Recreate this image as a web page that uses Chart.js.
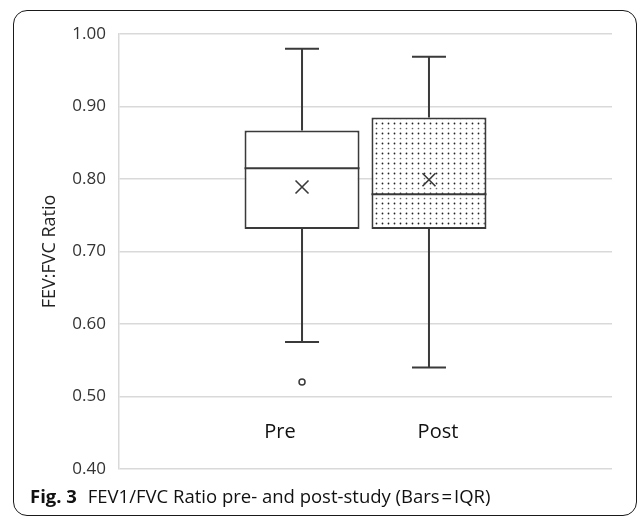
<!DOCTYPE html>
<html>
<head>
<meta charset="utf-8">
<script src="https://cdn.jsdelivr.net/npm/chart.js@4/dist/chart.umd.min.js"></script>
<style>
    html, body { margin: 0; padding: 0; background: #fff; }
    body { width: 637px; height: 516px; position: relative; overflow: hidden; }
    #frame {
        position: absolute; left: 13px; top: 10px; width: 624px; height: 506px;
        box-sizing: border-box; border: 1.5px solid #1a1a1a; border-radius: 14px;
    }
    #chart { position: absolute; left: 14px; top: 11px; }
    #caption {
        position: absolute; left: 30px; top: 483px;
        font-family: "Open Sans", sans-serif; font-size: 18.5px; color: #111;
        white-space: nowrap;
    }
    #caption b { font-weight: 700; margin-right: 6px; }
</style>
</head>
<body>
<div id="frame"></div>
<canvas id="chart" width="622" height="481"></canvas>
<div id="caption"><b>Fig. 3</b> FEV1/FVC Ratio pre- and post-study (Bars&#8202;=&#8202;IQR)</div>

<script>
// box plot values
const groups = ['Pre', 'Post'];
const whiskerMin = [0.575, 0.540];
const q1 = [0.731, 0.731];
const median = [0.815, 0.779];
const q3 = [0.867, 0.885];
const whiskerMax = [0.980, 0.969];
const means = [0.789, 0.799];
const outliers = [[0.520], []];
const yTicks = [0.40, 0.50, 0.60, 0.70, 0.80, 0.90, 1.00];

const ink = '#3a3a3a';

function dotPattern() {
    const c = document.createElement('canvas');
    c.width = 6;
    c.height = 10;
    const g = c.getContext('2d');
    g.fillStyle = '#fff';
    g.fillRect(0, 0, 6, 10);
    g.fillStyle = '#222';
    g.beginPath();
    g.arc(2.5, 2.5, 0.9, 0, Math.PI * 2);
    g.fill();
    g.fillStyle = '#666';
    g.beginPath();
    g.arc(2.5, 7.5, 0.85, 0, Math.PI * 2);
    g.fill();
    return g.createPattern(c, 'repeat');
}

// whiskers, median, mean and outliers on top of the IQR bars
const boxPlugin = {
    id: 'boxExtras',
    afterDatasetsDraw(chart) {
        const ctx = chart.ctx;
        const y = chart.scales.y;
        const labelShift = [-22, 9];
        ctx.save();
        ctx.strokeStyle = ink;
        groups.forEach((name, i) => {
            const bar = chart.getDatasetMeta(i).data[0];
            const x = bar.x;
            const half = bar.width / 2;
            const cap = 17;

            ctx.lineWidth = 2;
            ctx.beginPath();
            ctx.moveTo(x, y.getPixelForValue(q3[i]));
            ctx.lineTo(x, y.getPixelForValue(whiskerMax[i]));
            ctx.moveTo(x - cap, y.getPixelForValue(whiskerMax[i]));
            ctx.lineTo(x + cap, y.getPixelForValue(whiskerMax[i]));
            ctx.moveTo(x, y.getPixelForValue(q1[i]));
            ctx.lineTo(x, y.getPixelForValue(whiskerMin[i]));
            ctx.moveTo(x - cap, y.getPixelForValue(whiskerMin[i]));
            ctx.lineTo(x + cap, y.getPixelForValue(whiskerMin[i]));
            ctx.moveTo(x - half, y.getPixelForValue(median[i]));
            ctx.lineTo(x + half, y.getPixelForValue(median[i]));
            ctx.stroke();

            // mean marker
            const my = y.getPixelForValue(means[i]);
            ctx.lineWidth = 1.6;
            ctx.beginPath();
            ctx.moveTo(x - 6.5, my - 6.5);
            ctx.lineTo(x + 6.5, my + 6.5);
            ctx.moveTo(x + 6.5, my - 6.5);
            ctx.lineTo(x - 6.5, my + 6.5);
            ctx.stroke();

            outliers[i].forEach(v => {
                ctx.lineWidth = 1.5;
                ctx.beginPath();
                ctx.arc(x, y.getPixelForValue(v), 3, 0, Math.PI * 2);
                ctx.stroke();
            });

            ctx.fillStyle = '#111';
            ctx.font = '20px "Open Sans", sans-serif';
            ctx.textAlign = 'center';
            ctx.textBaseline = 'middle';
            ctx.fillText(name, x + labelShift[i], y.getPixelForValue(0.451));
        });
        ctx.restore();
    }
};

const datasets = groups.map((name, i) => ({
    label: name,
    data: [[q1[i], q3[i]]],
    backgroundColor: i === 0 ? '#ffffff' : dotPattern(),
    borderColor: ink,
    borderWidth: 2,
    borderSkipped: false,
    categoryPercentage: 0.515,
    barPercentage: 0.906
}));

new Chart(document.getElementById('chart'), {
    type: 'bar',
    data: { labels: [''], datasets: datasets },
    options: {
        responsive: false,
        animation: false,
        layout: { padding: { left: 21, top: 21, right: 24, bottom: 12 } },
        plugins: {
            legend: { display: false },
            tooltip: { enabled: false }
        },
        scales: {
            x: { display: false },
            y: {
                min: 0.4,
                max: 1.0,
                afterFit(scale) { scale.width = 84; },
                afterBuildTicks(scale) { scale.ticks = yTicks.map(v => ({ value: v })); },
                ticks: {
                    padding: 13,
                    color: '#333',
                    font: { family: 'Open Sans', size: 17 },
                    callback: v => Number(v).toFixed(2)
                },
                grid: { color: '#d9d9d9', lineWidth: 1.5, drawTicks: false },
                border: { display: true, color: '#d9d9d9', width: 1.5 },
                title: {
                    display: true,
                    text: 'FEV:FVC Ratio',
                    color: '#222',
                    font: { family: 'Open Sans', size: 18 }
                }
            }
        }
    },
    plugins: [boxPlugin]
});
</script>
</body>
</html>
